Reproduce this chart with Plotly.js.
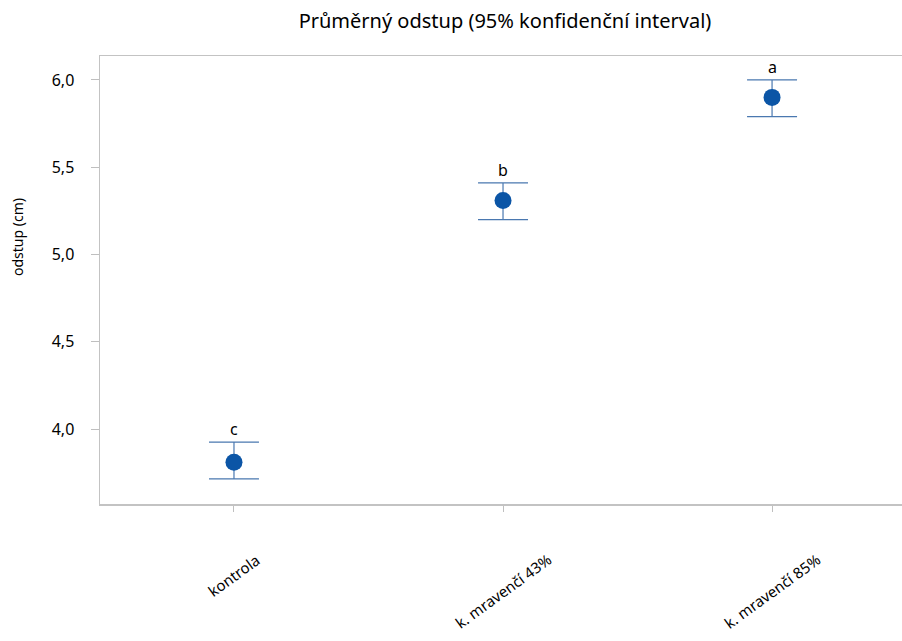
<!DOCTYPE html>
<html>
<head>
<meta charset="utf-8">
<script src="https://cdn.plot.ly/plotly-3.0.1.min.js"></script>
<style>html,body{margin:0;padding:0;background:#fff;}#chart{width:902px;height:641px;}</style>
</head>
<body>
<div id="chart"></div>
<script>
const categories = ['kontrola', 'k. mravenčí 43%', 'k. mravenčí 85%'];
const means = [3.81, 5.31, 5.90];
const upper = [3.925, 5.41, 6.00];
const lower = [3.715, 5.20, 5.79];
const letters = ['c', 'b', 'a'];
const yTicks = [4.0, 4.5, 5.0, 5.5, 6.0];
const yTitle = 'odstup (cm)';

const xIdx = categories.map((c, i) => i);
const FONT = '"Noto Sans", "Open Sans", sans-serif';

const trace = {
  type: 'scatter',
  mode: 'markers',
  x: xIdx,
  y: means,
  marker: {size: 17, color: '#0b55a6'},
  error_y: {
    type: 'data',
    symmetric: false,
    array: means.map((m, i) => upper[i] - m),
    arrayminus: means.map((m, i) => m - lower[i]),
    color: '#4a78b0',
    thickness: 1.2,
    width: 25
  },
  hoverinfo: 'skip'
};

const annotations = [];
categories.forEach((c, i) => {
  annotations.push({
    x: i, xref: 'x', y: 0, yref: 'paper',
    text: c, showarrow: false, textangle: -36,
    xanchor: 'center', yanchor: 'top', yshift: -44, borderpad: 0,
    font: {family: FONT, size: 15, color: '#000'}
  });
  annotations.push({
    x: i, xref: 'x', y: upper[i], yref: 'y',
    text: letters[i], showarrow: false,
    xanchor: 'center', yanchor: 'bottom', yshift: 0,
    font: {family: FONT, size: 16, color: '#000'}
  });
});
annotations.push({
  x: 0, xref: 'paper', xanchor: 'center', xshift: -82,
  y: 0.596, yref: 'paper', yanchor: 'middle',
  text: yTitle, showarrow: false, textangle: -90,
  font: {family: FONT, size: 14, color: '#000'}
});

const layout = {
  width: 902, height: 641,
  margin: {l: 100, r: 0, t: 56, b: 137},
  paper_bgcolor: '#fff', plot_bgcolor: '#fff',
  separators: ', ',
  showlegend: false,
  font: {family: FONT, size: 15, color: '#000'},
  title: {
    text: 'Průměrný odstup (95% konfidenční interval)',
    x: 0.505, xref: 'paper', xanchor: 'center',
    y: 0.967, yref: 'container', yanchor: 'middle',
    font: {family: FONT, size: 20, color: '#000'}
  },
  xaxis: {
    range: [-0.498, 2.483],
    tickvals: xIdx,
    showticklabels: false,
    ticks: 'outside', ticklen: 6, tickcolor: '#bfbfbf', tickwidth: 1,
    showgrid: false, zeroline: false,
    showline: true, linecolor: '#c3c3c3', linewidth: 1.5, mirror: true
  },
  yaxis: {
    range: [3.571, 6.137],
    tickvals: yTicks,
    tickformat: '.1f',
    ticks: 'outside', ticklen: 8, tickcolor: '#bfbfbf', tickwidth: 1,
    ticklabelstandoff: 13,
    tickfont: {family: FONT, size: 16, color: '#000'},
    showgrid: false, zeroline: false,
    showline: true, linecolor: '#c3c3c3', linewidth: 1.5
  },
  annotations: annotations
};

Plotly.newPlot('chart', [trace], layout, {displayModeBar: false, staticPlot: true});
</script>
</body>
</html>
